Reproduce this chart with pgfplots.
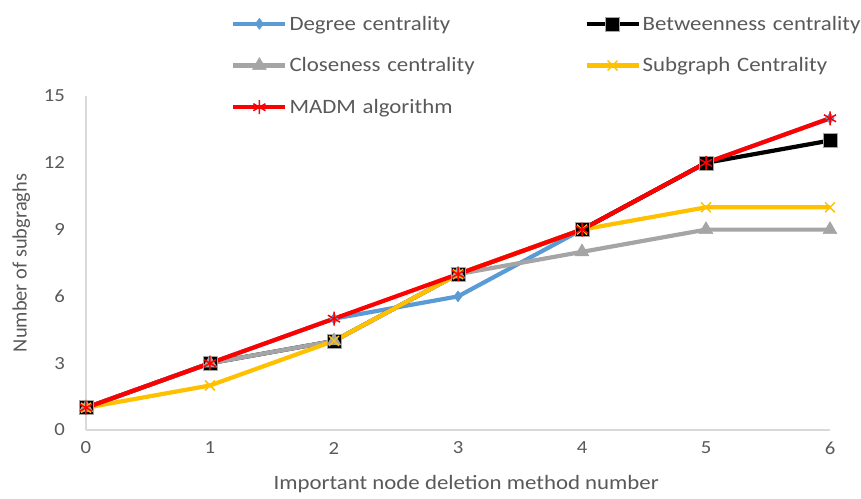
\documentclass[border=0pt]{standalone}
\usepackage{fontspec}
\setmainfont{Carlito}[FakeStretch=1.12]
\newfontfamily\uprightlabel{Carlito}
\usepackage{pgfplots}
\pgfplotsset{compat=1.18}
\definecolor{txtgray}{HTML}{595959}
\definecolor{axgray}{HTML}{D9D9D9}
\definecolor{cdeg}{HTML}{5B9BD5}
\definecolor{cclo}{HTML}{A5A5A5}
\definecolor{csub}{HTML}{FFC000}
\definecolor{cmadm}{HTML}{FF0000}

\begin{document}
\begin{tikzpicture}
\path[use as bounding box] (-86pt,-68pt) rectangle (775pt,430pt);
\begin{axis}[%
width=744pt,
height=334pt,
scale only axis,
font=\fontsize{20.4}{24}\selectfont,
xmin=0, xmax=6,
ymin=0, ymax=15,
xtick={0,1,...,6},
ytick={0,3,...,15},
axis x line=bottom,
axis y line=left,
axis line style={axgray, line width=1.5pt, -},
major tick length=0pt,
ticklabel style={txtgray, inner sep=0pt, font=\fontsize{18.5}{22}\selectfont},
xticklabel style={anchor=center, yshift=-18pt},
yticklabel style={anchor=east, xshift=-21pt},
/pgf/number format/assume math mode=true,
xlabel={Important node deletion method number},
ylabel={\uprightlabel Number of subgraghs},
xlabel style={txtgray, at={(axis description cs:0.511,-0.162)}, anchor=center},
ylabel style={txtgray, at={(axis description cs:-0.087,0.5)}, anchor=center},
clip=false,
legend columns=2,
legend style={draw=none, fill=none, at={(0.191,1.252)}, anchor=north west,
  font=\fontsize{20.4}{24}\selectfont, text=txtgray, row sep=22pt,
  nodes={text width=293pt, align=left, inner sep=2pt}},
legend cell align=left,
legend image code/.code={%
  \draw[mark repeat=2, mark phase=2] plot coordinates {(0pt,0pt) (26pt,0pt) (52pt,0pt)};},
every axis plot/.append style={line width=4.2pt, line join=round},
]
\addplot [color=cdeg, mark=diamond*, mark size=5.5pt, mark options={solid, line width=0.5pt}]
 table[row sep=crcr]{%
0 1\\ 1 3\\ 2 5\\ 3 6\\ 4 9\\ 5 12\\ 6 14\\
};
\addlegendentry{Degree centrality}

\addplot [color=black, mark=square*, mark size=7pt, mark options={solid, line width=0.6pt, draw=cclo}]
 table[row sep=crcr]{%
0 1\\ 1 3\\ 2 4\\ 3 7\\ 4 9\\ 5 12\\ 6 13\\
};
\addlegendentry{Betweenness centrality}

\addplot [color=cclo, mark=triangle*, mark size=8pt, mark options={solid, line width=0.5pt}]
 table[row sep=crcr]{%
0 1\\ 1 3\\ 2 4\\ 3 7\\ 4 8\\ 5 9\\ 6 9\\
};
\addlegendentry{Closeness centrality}

\addplot [color=csub, mark=x, mark size=7pt, mark options={solid, line width=1.5pt}]
 table[row sep=crcr]{%
0 1\\ 1 2\\ 2 4\\ 3 7\\ 4 9\\ 5 10\\ 6 10\\
};
\addlegendentry{Subgraph Centrality}

\addplot [color=cmadm, mark=asterisk, mark size=7pt, mark options={solid, line width=1.5pt}]
 table[row sep=crcr]{%
0 1\\ 1 3\\ 2 5\\ 3 7\\ 4 9\\ 5 12\\ 6 14\\
};
\addlegendentry{MADM algorithm}

\end{axis}
\end{tikzpicture}
\end{document}
